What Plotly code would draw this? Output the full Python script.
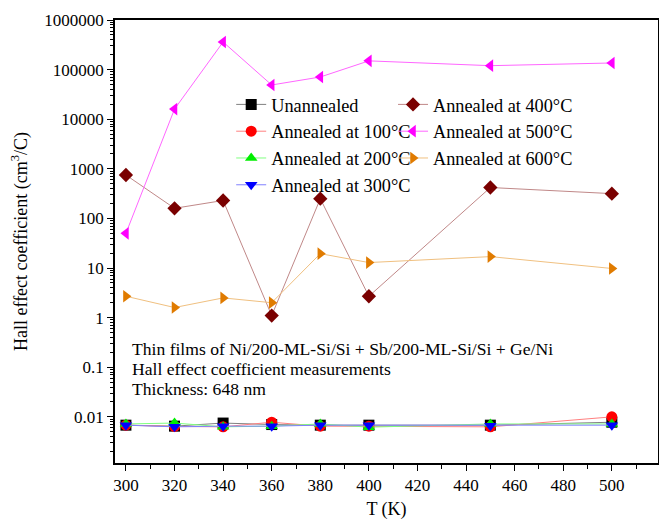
import plotly.graph_objects as go

T = [300, 320, 340, 360, 380, 400, 450, 500]
unannealed = [0.0068, 0.0065, 0.0075, 0.0070, 0.0068, 0.0068, 0.0068, 0.0078]
a100 = [0.0068, 0.0064, 0.0063, 0.0078, 0.0065, 0.0065, 0.0063, 0.0100]
a200 = [0.0072, 0.0075, 0.0063, 0.0065, 0.0072, 0.0062, 0.0072, 0.0072]
a300 = [0.0068, 0.0063, 0.0065, 0.0065, 0.0068, 0.0068, 0.0066, 0.0068]
a400 = [750, 160, 230, 1.1, 250, 2.7, 420, 316]
a500 = [50, 16000, 360000, 49000, 71000, 150000, 120000, 136000]
a600 = [2.7, 1.6, 2.5, 2.0, 19.5, 12.9, 17, 9.8]

# name, values, line colour, marker colour, symbol, legend, rank
series = [
    ("Unannealed", unannealed, "#808080", "#000000", "square", "legend", 1),
    ("Annealed at 100°C", a100, "#ff8080", "#ff0000", "circle", "legend", 2),
    ("Annealed at 200°C", a200, "#80ff80", "#00ee00", "triangle-up", "legend", 3),
    ("Annealed at 300°C", a300, "#8080ff", "#0000ff", "triangle-down", "legend", 4),
    ("Annealed at 400°C", a400, "#c08888", "#7a0000", "diamond", "legend2", 1),
    ("Annealed at 500°C", a500, "#ff66ff", "#ff00ff", "triangle-left", "legend2", 2),
    ("Annealed at 600°C", a600, "#f0c080", "#e07b00", "triangle-right", "legend2", 3),
]
draw_order = [4, 5, 6, 0, 1, 2, 3]

ytickvals = [0.01, 0.1, 1, 10, 100, 1000, 10000, 100000, 1000000]
yticktext = ["0.01", "0.1", "1", "10", "100", "1000", "10000", "100000", "1000000"]
yminor = [m * 10.0 ** e for e in range(-3, 6) for m in range(2, 10)]

fig = go.Figure()
for i in draw_order:
    name, vals, lc, mc, sym, leg, rank = series[i]
    fig.add_trace(go.Scatter(
        x=T, y=vals, name=name, mode="lines+markers",
        line=dict(color=lc, width=1),
        marker=dict(symbol=sym, color=mc, size=11, line=dict(width=0)),
        legend=leg, legendrank=rank,
    ))

font = "Liberation Serif"
legstyle = dict(orientation="v", yanchor="top", xanchor="left", bgcolor="rgba(0,0,0,0)",
                font=dict(family=font, size=18.3, color="black"), traceorder="normal")
fig.update_layout(
    width=659, height=521,
    margin=dict(l=115, r=1, t=20, b=58),
    plot_bgcolor="white", paper_bgcolor="white",
    font=dict(family=font, size=17, color="black"),
    showlegend=True,
    legend=dict(x=0.214, y=0.851, **legstyle),
    legend2=dict(x=0.512, y=0.851, **legstyle),
    xaxis=dict(range=[295.5, 519], tickvals=list(range(300, 520, 20)),
               ticks="outside", ticklen=6, tickwidth=1, tickcolor="black",
               showline=True, linecolor="black", linewidth=1.5, mirror=True,
               showgrid=False, zeroline=False, automargin=False,
               minor=dict(tickvals=list(range(310, 520, 20)), ticks="outside", ticklen=4, tickcolor="black"),
               title=dict(text="T (K)", font=dict(family=font, size=18), standoff=8),
               tickfont=dict(family=font, size=17)),
    yaxis=dict(type="log", range=[-2.93, 6.0], tickvals=ytickvals, ticktext=yticktext,
               ticks="outside", ticklen=6, tickwidth=1, tickcolor="black",
               showline=True, linecolor="black", linewidth=1.5, mirror=True,
               showgrid=False, zeroline=False, automargin=False,
               minor=dict(tickvals=yminor, ticks="outside", ticklen=3, tickcolor="black"),
               title=dict(text="Hall effect coefficient (cm<sup>3</sup>/C)", font=dict(family=font, size=18), standoff=12),
               tickfont=dict(family=font, size=17)),
)

notes = ["Thin films of Ni/200-ML-Si/Si + Sb/200-ML-Si/Si + Ge/Ni",
         "Hall effect coefficient measurements",
         "Thickness: 648 nm"]
note_y = [349, 369, 389]
for txt, py in zip(notes, note_y):
    fig.add_annotation(xref="paper", yref="paper", x=(130 - 115) / 543, y=(463 - py) / 443,
                       xanchor="left", yanchor="middle", showarrow=False, text=txt,
                       font=dict(family=font, size=17.6, color="black"))

fig.write_html("out.html", config={"displayModeBar": False},
               post_script="document.body.style.margin='0px';")
